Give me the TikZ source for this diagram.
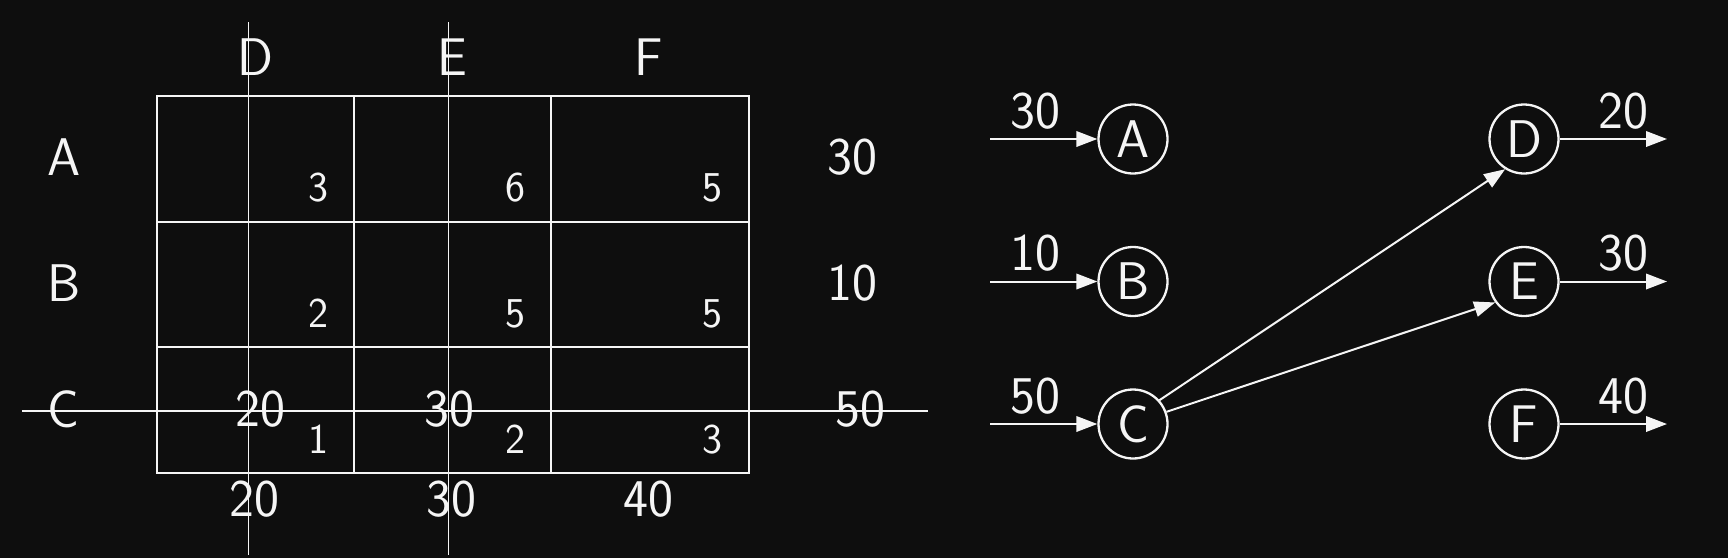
\documentclass[tikz,border=0pt]{standalone}
\usepackage{fontspec}
\usetikzlibrary{arrows.meta}
\definecolor{bgc}{RGB}{14,14,14}
\definecolor{fg}{RGB}{245,245,245}
\tikzset{
  big/.style={text=fg, inner sep=0pt, font=\sffamily\fontsize{53}{60}\selectfont},
  small/.style={text=fg, inner sep=0pt, font=\sffamily\fontsize{42.5}{48}\selectfont},
  gridline/.style={draw=fg, line width=2pt},
  longline/.style={draw=fg, line width=1.8pt},
  stnode/.style={circle, draw=fg, line width=2.3pt, minimum size=69pt, inner sep=0pt, text=fg, font=\sffamily\fontsize{53}{60}\selectfont},
  flow/.style={draw=fg, line width=2pt, -{Triangle[length=21pt, width=15.5pt]}}
}
\begin{document}
\begin{tikzpicture}[x=1pt, y=-1pt]
\useasboundingbox[fill=bgc] (0,0) rectangle (1728,558);
% grid
\draw[gridline] (157,95.5) rectangle (748.6,472.5);
\draw[gridline] (157,221.5) -- (748.6,221.5);
\draw[gridline] (157,347) -- (748.6,347);
\draw[gridline] (354,95.5) -- (354,472.5);
\draw[gridline] (551,95.5) -- (551,472.5);
% long lines
\draw[longline] (248.4,22) -- (248.4,554.5);
\draw[longline] (448.4,22) -- (448.4,554.5);
\draw[longline] (21.8,411) -- (928.2,411);
% column labels
\node[big] (hD) at (255.5,57) {D};
\node[big] (hE) at (452,57) {E};
\node[big] (hF) at (648.5,57) {F};
% row labels
\node[big] (rA) at (63.6,157) {A};
\node[big] (rB) at (63.6,283) {B};
\node[big] (rC) at (63.6,409) {C};
% costs
\node[small] (c11) at (318,188) {3};
\node[small] (c12) at (515,188) {6};
\node[small] (c13) at (712,188) {5};
\node[small] (c21) at (318,313.5) {2};
\node[small] (c22) at (515,313.5) {5};
\node[small] (c23) at (712,313.5) {5};
\node[small] (c31) at (318,439.5) {1};
\node[small] (c32) at (515,439.5) {2};
\node[small] (c33) at (712,439.5) {3};
% supplies
\node[big] (sA) at (852.5,157) {30};
\node[big] (sB) at (852.5,283) {10};
\node[big] (sC) at (860.4,409.5) {50};
% demands
\node[big] (dD) at (254.5,499) {20};
\node[big] (dE) at (451.4,499) {30};
\node[big] (dF) at (648.3,499) {40};
% allocations
\node[big] (x31) at (260.5,409.5) {20};
\node[big] (x32) at (449.6,409.5) {30};
% network
\node[stnode] (A) at (1133,139) {A};
\node[stnode] (B) at (1133,281.5) {B};
\node[stnode] (C) at (1133,424) {C};
\node[stnode] (D) at (1524,139) {D};
\node[stnode] (E) at (1524,281.5) {E};
\node[stnode] (F) at (1524,424) {F};
\coordinate (inA) at (990,139);
\coordinate (inB) at (990,281.5);
\coordinate (inC) at (990,424);
\coordinate (outD) at (1667,139);
\coordinate (outE) at (1667,281.5);
\coordinate (outF) at (1667,424);
\draw[flow] (inA) -- (A);
\draw[flow] (inB) -- (B);
\draw[flow] (inC) -- (C);
\draw[flow] (D) -- (outD);
\draw[flow] (E) -- (outE);
\draw[flow] (F) -- (outF);
\draw[flow] (C.42) -- (D.238);
\draw[flow] (C.20) -- (E.216);
\node[big] (lA) at (1035,111) {30};
\node[big] (lB) at (1035,253.5) {10};
\node[big] (lC) at (1035,396) {50};
\node[big] (lD) at (1623,111) {20};
\node[big] (lE) at (1623,253.5) {30};
\node[big] (lF) at (1623,396) {40};
\end{tikzpicture}
\end{document}
